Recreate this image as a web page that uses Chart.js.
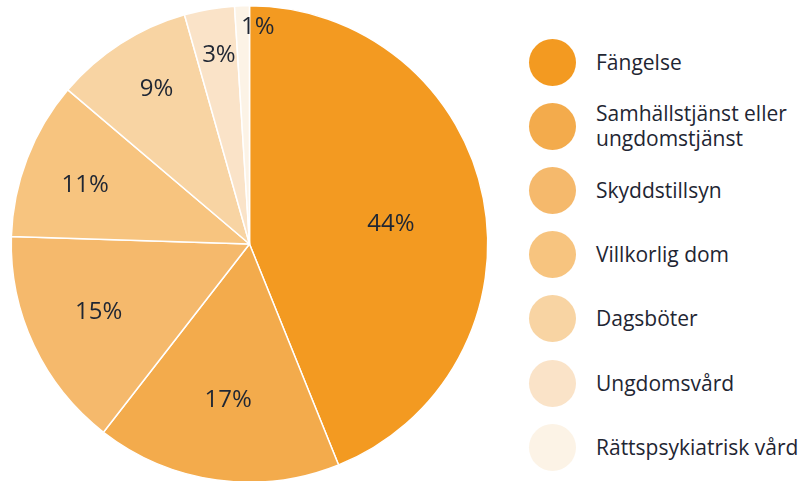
<!DOCTYPE html>
<html lang="sv">
<head>
<meta charset="utf-8">
<title>Påföljder</title>
<script src="https://cdn.jsdelivr.net/npm/chart.js@4"></script>
<style>
  html, body { margin: 0; padding: 0; background: #fff; width: 802px; height: 481px; overflow: hidden; }
  #wrap { position: absolute; left: 0; top: 0; width: 499px; height: 488px; }
  #legend {
    position: absolute; left: 529px; top: 30px;
    list-style: none; margin: 0; padding: 0;
    font-family: 'Open Sans', sans-serif; font-size: 21px; color: #1f2633;
  }
  #legend li { display: flex; align-items: center; height: 64.2px; }
  #legend .dot { width: 47px; height: 47px; border-radius: 50%; margin-right: 20px; flex: none; }
  #legend .txt { line-height: 25px; }
</style>
</head>
<body>
<div id="wrap"><canvas id="pie"></canvas></div>
<ul id="legend"></ul>

<script>
/* ---- data ---- */
const categories = [
  'Fängelse',
  ['Samhällstjänst eller', 'ungdomstjänst'],
  'Skyddstillsyn',
  'Villkorlig dom',
  'Dagsböter',
  'Ungdomsvård',
  'Rättspsykiatrisk vård'
];
const shares = [43.9, 16.6, 15.0, 10.7, 9.4, 3.4, 1.0];
const sliceColors = ['#f39a21', '#f3ab4c', '#f5b96c', '#f7c47f', '#f8d4a3', '#fae3c8', '#fcf3e6'];

/* ---- percentage labels inside the slices ---- */
const pctLabels = {
  id: 'pctLabels',
  afterDatasetsDraw(chart, args, opts) {
    const { ctx } = chart;
    const meta = chart.getDatasetMeta(0);
    ctx.save();
    ctx.font = opts.font;
    ctx.fillStyle = opts.color;
    ctx.textAlign = 'center';
    ctx.textBaseline = 'middle';
    meta.data.forEach((arc, i) => {
      const p = arc.getProps(['x', 'y', 'startAngle', 'endAngle', 'outerRadius'], true);
      const mid = (p.startAngle + p.endAngle) / 2;
      const r = p.outerRadius * opts.radius[i];
      const [sx, sy] = opts.shift[i];
      ctx.fillText(Math.round(shares[i]) + '%',
        p.x + Math.cos(mid) * r + sx,
        p.y + Math.sin(mid) * r + sy);
    });
    ctx.restore();
  }
};

const chart = new Chart(document.getElementById('pie'), {
  type: 'pie',
  data: {
    labels: categories,
    datasets: [{
      data: shares,
      backgroundColor: sliceColors,
      borderColor: '#ffffff',
      borderWidth: 1.5
    }]
  },
  options: {
    responsive: true,
    maintainAspectRatio: false,
    animation: false,
    layout: { padding: { left: 10.5, right: 10.5, top: 5, bottom: 5 } },
    plugins: {
      legend: { display: false },
      tooltip: { enabled: false },
      pctLabels: {
        font: "24px 'Open Sans'",
        color: '#1f2633',
        radius: [0.6, 0.65, 0.69, 0.73, 0.76, 0.81, 0.91],
        shift: [[1, 7], [0, 3], [-2, -2], [-2, 4], [5, -3], [2, 1], [15, 0]]
      }
    }
  },
  plugins: [pctLabels]
});

/* ---- legend ---- */
const legendEl = document.getElementById('legend');
chart.data.labels.forEach((lab, i) => {
  const li = document.createElement('li');
  const dot = document.createElement('span');
  dot.className = 'dot';
  dot.style.background = sliceColors[i];
  const txt = document.createElement('span');
  txt.className = 'txt';
  txt.innerHTML = [].concat(lab).join('<br>');
  li.appendChild(dot);
  li.appendChild(txt);
  legendEl.appendChild(li);
});
</script>
</body>
</html>
